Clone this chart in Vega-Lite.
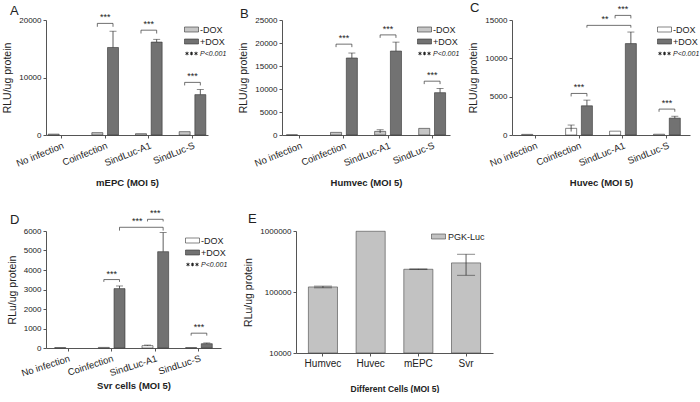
{
  "$schema": "https://vega.github.io/schema/vega-lite/v6.json",
  "background": "white",
  "padding": {"left": 2, "top": 2, "right": 0, "bottom": 0},
  "config": {
    "font": "Liberation Sans",
    "view": {"stroke": null},
    "title": {"font": "Liberation Sans", "fontSize": 13, "fontWeight": "normal", "anchor": "start", "frame": "group", "color": "#222", "offset": -5},
    "axis": {"grid": false, "labelFont": "Liberation Sans", "titleFont": "Liberation Sans", "domainColor": "#555", "tickColor": "#555", "labelColor": "#222", "titleColor": "#222", "tickSize": 3, "labelPadding": 2, "labelFontSize": 8},
    "axisY": {"titleFontSize": 10.5, "titleFontWeight": "normal", "titlePadding": 6},
    "axisX": {"labelAngle": -22, "labelFontSize": 9.5, "titleFontWeight": "bold", "titleFontSize": 9.5, "titlePadding": 10}
  },
  "datasets": {
    "bars": [
      {"panel": "A", "cat": "No infection", "grp": "-DOX", "value": 150},
      {"panel": "A", "cat": "Coinfection", "grp": "-DOX", "value": 410},
      {"panel": "A", "cat": "Coinfection", "grp": "+DOX", "value": 15220, "lo": 15220, "hi": 18050},
      {"panel": "A", "cat": "SindLuc-A1", "grp": "-DOX", "value": 230},
      {"panel": "A", "cat": "SindLuc-A1", "grp": "+DOX", "value": 16160, "lo": 16160, "hi": 16640},
      {"panel": "A", "cat": "SindLuc-S", "grp": "-DOX", "value": 580},
      {"panel": "A", "cat": "SindLuc-S", "grp": "+DOX", "value": 7020, "lo": 7020, "hi": 7910},
      {"panel": "B", "cat": "No infection", "grp": "-DOX", "value": 40},
      {"panel": "B", "cat": "Coinfection", "grp": "-DOX", "value": 570},
      {"panel": "B", "cat": "Coinfection", "grp": "+DOX", "value": 16740, "lo": 16740, "hi": 17820},
      {"panel": "B", "cat": "SindLuc-A1", "grp": "-DOX", "value": 790, "lo": 450, "hi": 1140},
      {"panel": "B", "cat": "SindLuc-A1", "grp": "+DOX", "value": 18250, "lo": 18250, "hi": 20190},
      {"panel": "B", "cat": "SindLuc-S", "grp": "-DOX", "value": 1440},
      {"panel": "B", "cat": "SindLuc-S", "grp": "+DOX", "value": 9200, "lo": 9200, "hi": 10130},
      {"panel": "C", "cat": "No infection", "grp": "-DOX", "value": 80},
      {"panel": "C", "cat": "Coinfection", "grp": "-DOX", "value": 870, "lo": 450, "hi": 1300},
      {"panel": "C", "cat": "Coinfection", "grp": "+DOX", "value": 3810, "lo": 3810, "hi": 4550},
      {"panel": "C", "cat": "SindLuc-A1", "grp": "-DOX", "value": 500},
      {"panel": "C", "cat": "SindLuc-A1", "grp": "+DOX", "value": 11920, "lo": 11920, "hi": 13430},
      {"panel": "C", "cat": "SindLuc-S", "grp": "-DOX", "value": 100},
      {"panel": "C", "cat": "SindLuc-S", "grp": "+DOX", "value": 2200, "lo": 2200, "hi": 2450},
      {"panel": "D", "cat": "No infection", "grp": "-DOX", "value": 25},
      {"panel": "D", "cat": "Coinfection", "grp": "-DOX", "value": 30},
      {"panel": "D", "cat": "Coinfection", "grp": "+DOX", "value": 3045, "lo": 3045, "hi": 3180},
      {"panel": "D", "cat": "SindLuc-A1", "grp": "-DOX", "value": 120, "lo": 120, "hi": 150},
      {"panel": "D", "cat": "SindLuc-A1", "grp": "+DOX", "value": 4940, "lo": 4940, "hi": 5920},
      {"panel": "D", "cat": "SindLuc-S", "grp": "-DOX", "value": 25},
      {"panel": "D", "cat": "SindLuc-S", "grp": "+DOX", "value": 220, "lo": 220, "hi": 260},
      {"panel": "E", "cat": "Humvec", "grp": "PGK-Luc", "value": 121000, "lo": 117000, "hi": 125000},
      {"panel": "E", "cat": "Huvec", "grp": "PGK-Luc", "value": 990000},
      {"panel": "E", "cat": "mEPC", "grp": "PGK-Luc", "value": 236000, "lo": 233000, "hi": 239000},
      {"panel": "E", "cat": "Svr", "grp": "PGK-Luc", "value": 300000, "lo": 188000, "hi": 416000}
    ],
    "brackets": [
      {"panel": "A", "id": "a1", "cat": "Coinfection", "grp": "-DOX", "y": 18820, "ord": 0},
      {"panel": "A", "id": "a1", "cat": "Coinfection", "grp": "-DOX", "y": 19410, "ord": 1},
      {"panel": "A", "id": "a1", "cat": "Coinfection", "grp": "+DOX", "y": 19410, "ord": 2},
      {"panel": "A", "id": "a1", "cat": "Coinfection", "grp": "+DOX", "y": 18820, "ord": 3},
      {"panel": "A", "id": "a2", "cat": "SindLuc-A1", "grp": "-DOX", "y": 17650, "ord": 0},
      {"panel": "A", "id": "a2", "cat": "SindLuc-A1", "grp": "-DOX", "y": 18230, "ord": 1},
      {"panel": "A", "id": "a2", "cat": "SindLuc-A1", "grp": "+DOX", "y": 18230, "ord": 2},
      {"panel": "A", "id": "a2", "cat": "SindLuc-A1", "grp": "+DOX", "y": 17650, "ord": 3},
      {"panel": "A", "id": "a3", "cat": "SindLuc-S", "grp": "-DOX", "y": 8620, "ord": 0},
      {"panel": "A", "id": "a3", "cat": "SindLuc-S", "grp": "-DOX", "y": 9150, "ord": 1},
      {"panel": "A", "id": "a3", "cat": "SindLuc-S", "grp": "+DOX", "y": 9150, "ord": 2},
      {"panel": "A", "id": "a3", "cat": "SindLuc-S", "grp": "+DOX", "y": 8620, "ord": 3},
      {"panel": "B", "id": "b1", "cat": "Coinfection", "grp": "-DOX", "y": 19100, "ord": 0},
      {"panel": "B", "id": "b1", "cat": "Coinfection", "grp": "-DOX", "y": 19750, "ord": 1},
      {"panel": "B", "id": "b1", "cat": "Coinfection", "grp": "+DOX", "y": 19750, "ord": 2},
      {"panel": "B", "id": "b1", "cat": "Coinfection", "grp": "+DOX", "y": 19100, "ord": 3},
      {"panel": "B", "id": "b2", "cat": "SindLuc-A1", "grp": "-DOX", "y": 21120, "ord": 0},
      {"panel": "B", "id": "b2", "cat": "SindLuc-A1", "grp": "-DOX", "y": 21760, "ord": 1},
      {"panel": "B", "id": "b2", "cat": "SindLuc-A1", "grp": "+DOX", "y": 21760, "ord": 2},
      {"panel": "B", "id": "b2", "cat": "SindLuc-A1", "grp": "+DOX", "y": 21120, "ord": 3},
      {"panel": "B", "id": "b3", "cat": "SindLuc-S", "grp": "-DOX", "y": 11060, "ord": 0},
      {"panel": "B", "id": "b3", "cat": "SindLuc-S", "grp": "-DOX", "y": 11700, "ord": 1},
      {"panel": "B", "id": "b3", "cat": "SindLuc-S", "grp": "+DOX", "y": 11700, "ord": 2},
      {"panel": "B", "id": "b3", "cat": "SindLuc-S", "grp": "+DOX", "y": 11060, "ord": 3},
      {"panel": "C", "id": "c1", "cat": "Coinfection", "grp": "-DOX", "y": 5030, "ord": 0},
      {"panel": "C", "id": "c1", "cat": "Coinfection", "grp": "-DOX", "y": 5420, "ord": 1},
      {"panel": "C", "id": "c1", "cat": "Coinfection", "grp": "+DOX", "y": 5420, "ord": 2},
      {"panel": "C", "id": "c1", "cat": "Coinfection", "grp": "+DOX", "y": 5030, "ord": 3},
      {"panel": "C", "id": "c2", "cat": "SindLuc-A1", "grp": "-DOX", "y": 15210, "ord": 0},
      {"panel": "C", "id": "c2", "cat": "SindLuc-A1", "grp": "-DOX", "y": 15600, "ord": 1},
      {"panel": "C", "id": "c2", "cat": "SindLuc-A1", "grp": "+DOX", "y": 15600, "ord": 2},
      {"panel": "C", "id": "c2", "cat": "SindLuc-A1", "grp": "+DOX", "y": 15210, "ord": 3},
      {"panel": "C", "id": "c3", "cat": "SindLuc-S", "grp": "-DOX", "y": 3030, "ord": 0},
      {"panel": "C", "id": "c3", "cat": "SindLuc-S", "grp": "-DOX", "y": 3380, "ord": 1},
      {"panel": "C", "id": "c3", "cat": "SindLuc-S", "grp": "+DOX", "y": 3380, "ord": 2},
      {"panel": "C", "id": "c3", "cat": "SindLuc-S", "grp": "+DOX", "y": 3030, "ord": 3},
      {"panel": "C", "id": "c4", "cat": "Coinfection", "grp": "+DOX", "y": 14000, "ord": 0},
      {"panel": "C", "id": "c4", "cat": "Coinfection", "grp": "+DOX", "y": 14300, "ord": 1},
      {"panel": "C", "id": "c4", "cat": "SindLuc-A1", "grp": "+DOX", "y": 14300, "ord": 2},
      {"panel": "C", "id": "c4", "cat": "SindLuc-A1", "grp": "+DOX", "y": 14000, "ord": 3},
      {"panel": "D", "id": "d1", "cat": "Coinfection", "grp": "-DOX", "y": 3390, "ord": 0},
      {"panel": "D", "id": "d1", "cat": "Coinfection", "grp": "-DOX", "y": 3510, "ord": 1},
      {"panel": "D", "id": "d1", "cat": "Coinfection", "grp": "+DOX", "y": 3510, "ord": 2},
      {"panel": "D", "id": "d1", "cat": "Coinfection", "grp": "+DOX", "y": 3390, "ord": 3},
      {"panel": "D", "id": "d2", "cat": "SindLuc-A1", "grp": "-DOX", "y": 6490, "ord": 0},
      {"panel": "D", "id": "d2", "cat": "SindLuc-A1", "grp": "-DOX", "y": 6600, "ord": 1},
      {"panel": "D", "id": "d2", "cat": "SindLuc-A1", "grp": "+DOX", "y": 6600, "ord": 2},
      {"panel": "D", "id": "d2", "cat": "SindLuc-A1", "grp": "+DOX", "y": 6490, "ord": 3},
      {"panel": "D", "id": "d3", "cat": "SindLuc-S", "grp": "-DOX", "y": 635, "ord": 0},
      {"panel": "D", "id": "d3", "cat": "SindLuc-S", "grp": "-DOX", "y": 760, "ord": 1},
      {"panel": "D", "id": "d3", "cat": "SindLuc-S", "grp": "+DOX", "y": 760, "ord": 2},
      {"panel": "D", "id": "d3", "cat": "SindLuc-S", "grp": "+DOX", "y": 635, "ord": 3},
      {"panel": "D", "id": "d4", "cat": "Coinfection", "grp": "+DOX", "y": 6020, "ord": 0},
      {"panel": "D", "id": "d4", "cat": "Coinfection", "grp": "+DOX", "y": 6190, "ord": 1},
      {"panel": "D", "id": "d4", "cat": "SindLuc-A1", "grp": "+DOX", "y": 6190, "ord": 2},
      {"panel": "D", "id": "d4", "cat": "SindLuc-A1", "grp": "+DOX", "y": 6020, "ord": 3}
    ],
    "blabels": [
      {"panel": "A", "cat": "Coinfection", "y": 19410, "label": "***", "cross": false},
      {"panel": "A", "cat": "SindLuc-A1", "y": 18230, "label": "***", "cross": false},
      {"panel": "A", "cat": "SindLuc-S", "y": 9150, "label": "***", "cross": false},
      {"panel": "B", "cat": "Coinfection", "y": 19750, "label": "***", "cross": false},
      {"panel": "B", "cat": "SindLuc-A1", "y": 21760, "label": "***", "cross": false},
      {"panel": "B", "cat": "SindLuc-S", "y": 11700, "label": "***", "cross": false},
      {"panel": "C", "cat": "Coinfection", "y": 5420, "label": "***", "cross": false},
      {"panel": "C", "cat": "SindLuc-A1", "y": 15600, "label": "***", "cross": false},
      {"panel": "C", "cat": "SindLuc-S", "y": 3380, "label": "***", "cross": false},
      {"panel": "C", "cat": "SindLuc-A1", "y": 14300, "label": "**", "cross": true},
      {"panel": "D", "cat": "Coinfection", "y": 3510, "label": "***", "cross": false},
      {"panel": "D", "cat": "SindLuc-A1", "y": 6600, "label": "***", "cross": false},
      {"panel": "D", "cat": "SindLuc-S", "y": 760, "label": "***", "cross": false},
      {"panel": "D", "cat": "SindLuc-A1", "y": 6190, "label": "***", "cross": true}
    ]
  },
  "bounds": "flush",
  "spacing": 211,
  "resolve": {"scale": {"fill": "independent", "xOffset": "independent"}, "legend": {"fill": "independent"}},
  "vconcat": [
    {
      "bounds": "flush",
      "spacing": 74,
      "resolve": {"scale": {"fill": "independent", "xOffset": "independent"}, "legend": {"fill": "independent"}},
      "hconcat": [
        {
          "width": 162, "height": 115,
          "title": {"text": "A", "dx": -36},
          "layer": [
            {"data": {"name": "bars"}, "transform": [{"filter": "datum.panel == 'A'"}],
             "mark": {"type": "bar", "stroke": "#333", "strokeWidth": 0.6},
             "encoding": {
               "x": {"field": "cat", "type": "nominal", "sort": ["No infection", "Coinfection", "SindLuc-A1", "SindLuc-S"], "scale": {"paddingInner": 0.39, "paddingOuter": 0.05}, "title": "mEPC (MOI 5)"},
               "xOffset": {"field": "grp", "type": "nominal", "sort": ["-DOX", "+DOX"], "scale": {"domain": ["-DOX", "+DOX"], "paddingInner": 0.3}},
               "y": {"field": "value", "type": "quantitative", "scale": {"domain": [0, 20000], "nice": false}, "axis": {"values": [0, 10000, 20000], "format": "d"}, "title": "RLU/ug protein"},
               "fill": {"field": "grp", "type": "nominal", "scale": {"domain": ["-DOX", "+DOX", "P<0.001"], "range": ["#c6c6c6", "#727272", "transparent"]},
                 "legend": {"orient": "right", "offset": -21, "title": " ", "titleFontSize": 4, "titlePadding": 1, "symbolType": "M-1.4,-0.5H1.4V0.5H-1.4Z", "symbolSize": 100, "symbolStrokeColor": "#333", "symbolStrokeWidth": 0.6, "labelFont": "Liberation Sans", "labelFontSize": 9, "labelColor": "#222", "labelOffset": 4, "rowPadding": 2,
                   "encode": {"symbols": {"update": {"shape": {"signal": "datum.value == 'P<0.001' ? 'M-0.9,-0.35V0.35M-1.203,-0.175L-0.597,0.175M-1.203,0.175L-0.597,-0.175M0,-0.35V0.35M-0.303,-0.175L0.303,0.175M-0.303,0.175L0.303,-0.175M0.9,-0.35V0.35M0.597,-0.175L1.203,0.175M0.597,0.175L1.203,-0.175' : 'M-1.4,-0.5H1.4V0.5H-1.4Z'"}, "stroke": {"signal": "datum.value == 'P<0.001' ? '#222' : '#333'"}, "strokeWidth": {"signal": "datum.value == 'P<0.001' ? 1 : 0.6"}}},
                              "labels": {"update": {"fontStyle": {"signal": "datum.value == 'P<0.001' ? 'italic' : 'normal'"}, "fontSize": {"signal": "datum.value == 'P<0.001' ? 7 : 9"}}}}}}
             }},
            {"data": {"name": "bars"}, "transform": [{"filter": "datum.panel == 'A' && isValid(datum.hi)"}],
             "mark": {"type": "rule", "stroke": "#333", "strokeWidth": 0.8},
             "encoding": {
               "x": {"field": "cat", "type": "nominal", "sort": ["No infection", "Coinfection", "SindLuc-A1", "SindLuc-S"], "scale": {"paddingInner": 0.39, "paddingOuter": 0.05}, "title": "mEPC (MOI 5)"},
               "xOffset": {"field": "grp", "type": "nominal", "sort": ["-DOX", "+DOX"], "scale": {"domain": ["-DOX", "+DOX"], "paddingInner": 0.3}},
               "y": {"field": "lo", "type": "quantitative", "scale": {"domain": [0, 20000], "nice": false}, "axis": {"values": [0, 10000, 20000], "format": "d"}, "title": "RLU/ug protein"},
               "y2": {"field": "hi"}
             }},
            {"data": {"name": "bars"}, "transform": [{"filter": "datum.panel == 'A' && isValid(datum.hi)"}],
             "mark": {"type": "tick", "color": "#333", "size": 7, "thickness": 0.8},
             "encoding": {
               "x": {"field": "cat", "type": "nominal", "sort": ["No infection", "Coinfection", "SindLuc-A1", "SindLuc-S"], "scale": {"paddingInner": 0.39, "paddingOuter": 0.05}, "title": "mEPC (MOI 5)"},
               "xOffset": {"field": "grp", "type": "nominal", "sort": ["-DOX", "+DOX"], "scale": {"domain": ["-DOX", "+DOX"], "paddingInner": 0.3}},
               "y": {"field": "hi", "type": "quantitative", "scale": {"domain": [0, 20000], "nice": false}, "axis": {"values": [0, 10000, 20000], "format": "d"}, "title": "RLU/ug protein"}
             }},
            {"data": {"name": "brackets"}, "transform": [{"filter": "datum.panel == 'A'"}],
             "mark": {"type": "line", "stroke": "#333", "strokeWidth": 0.7},
             "encoding": {
               "x": {"field": "cat", "type": "nominal", "sort": ["No infection", "Coinfection", "SindLuc-A1", "SindLuc-S"], "scale": {"paddingInner": 0.39, "paddingOuter": 0.05}, "title": "mEPC (MOI 5)"},
               "xOffset": {"field": "grp", "type": "nominal", "sort": ["-DOX", "+DOX"], "scale": {"domain": ["-DOX", "+DOX"], "paddingInner": 0.3}},
               "y": {"field": "y", "type": "quantitative", "scale": {"domain": [0, 20000], "nice": false}, "axis": {"values": [0, 10000, 20000], "format": "d"}, "title": "RLU/ug protein"},
               "detail": {"field": "id"},
               "order": {"field": "ord"}
             }},
            {"data": {"name": "blabels"}, "transform": [{"filter": "datum.panel == 'A'"}],
             "mark": {"type": "text", "baseline": "bottom", "dy": -1, "fontSize": 9, "color": "#222"},
             "encoding": {
               "x": {"field": "cat", "type": "nominal", "sort": ["No infection", "Coinfection", "SindLuc-A1", "SindLuc-S"], "scale": {"paddingInner": 0.39, "paddingOuter": 0.05}, "title": "mEPC (MOI 5)"},
               "y": {"field": "y", "type": "quantitative", "scale": {"domain": [0, 20000], "nice": false}, "axis": {"values": [0, 10000, 20000], "format": "d"}, "title": "RLU/ug protein"},
               "text": {"field": "label"}
             }}
          ]
        },
        {
          "bounds": "flush",
          "spacing": 62,
          "resolve": {"scale": {"fill": "independent", "xOffset": "independent"}, "legend": {"fill": "independent"}},
          "hconcat": [
            {
              "width": 168, "height": 115,
              "title": {"text": "B", "dx": -42},
              "layer": [
                {"data": {"name": "bars"}, "transform": [{"filter": "datum.panel == 'B'"}],
                 "mark": {"type": "bar", "stroke": "#333", "strokeWidth": 0.6},
                 "encoding": {
                   "x": {"field": "cat", "type": "nominal", "sort": ["No infection", "Coinfection", "SindLuc-A1", "SindLuc-S"], "scale": {"paddingInner": 0.39, "paddingOuter": 0.1}, "title": "Humvec (MOI 5)"},
                   "xOffset": {"field": "grp", "type": "nominal", "sort": ["-DOX", "+DOX"], "scale": {"domain": ["-DOX", "+DOX"], "paddingInner": 0.3}},
                   "y": {"field": "value", "type": "quantitative", "scale": {"domain": [0, 25000], "nice": false}, "axis": {"values": [0, 5000, 10000, 15000, 20000, 25000], "format": "d"}, "title": "RLU/ug protein"},
                   "fill": {"field": "grp", "type": "nominal", "scale": {"domain": ["-DOX", "+DOX", "P<0.001"], "range": ["#c6c6c6", "#727272", "transparent"]},
                     "legend": {"orient": "right", "offset": -30, "title": " ", "titleFontSize": 4, "titlePadding": 1, "symbolType": "M-1.4,-0.5H1.4V0.5H-1.4Z", "symbolSize": 100, "symbolStrokeColor": "#333", "symbolStrokeWidth": 0.6, "labelFont": "Liberation Sans", "labelFontSize": 9, "labelColor": "#222", "labelOffset": 4, "rowPadding": 2,
                       "encode": {"symbols": {"update": {"shape": {"signal": "datum.value == 'P<0.001' ? 'M-0.9,-0.35V0.35M-1.203,-0.175L-0.597,0.175M-1.203,0.175L-0.597,-0.175M0,-0.35V0.35M-0.303,-0.175L0.303,0.175M-0.303,0.175L0.303,-0.175M0.9,-0.35V0.35M0.597,-0.175L1.203,0.175M0.597,0.175L1.203,-0.175' : 'M-1.4,-0.5H1.4V0.5H-1.4Z'"}, "stroke": {"signal": "datum.value == 'P<0.001' ? '#222' : '#333'"}, "strokeWidth": {"signal": "datum.value == 'P<0.001' ? 1 : 0.6"}}},
                                  "labels": {"update": {"fontStyle": {"signal": "datum.value == 'P<0.001' ? 'italic' : 'normal'"}, "fontSize": {"signal": "datum.value == 'P<0.001' ? 7 : 9"}}}}}}
                 }},
                {"data": {"name": "bars"}, "transform": [{"filter": "datum.panel == 'B' && isValid(datum.hi)"}],
                 "mark": {"type": "rule", "stroke": "#333", "strokeWidth": 0.8},
                 "encoding": {
                   "x": {"field": "cat", "type": "nominal", "sort": ["No infection", "Coinfection", "SindLuc-A1", "SindLuc-S"], "scale": {"paddingInner": 0.39, "paddingOuter": 0.1}, "title": "Humvec (MOI 5)"},
                   "xOffset": {"field": "grp", "type": "nominal", "sort": ["-DOX", "+DOX"], "scale": {"domain": ["-DOX", "+DOX"], "paddingInner": 0.3}},
                   "y": {"field": "lo", "type": "quantitative", "scale": {"domain": [0, 25000], "nice": false}, "axis": {"values": [0, 5000, 10000, 15000, 20000, 25000], "format": "d"}, "title": "RLU/ug protein"},
                   "y2": {"field": "hi"}
                 }},
                {"data": {"name": "bars"}, "transform": [{"filter": "datum.panel == 'B' && isValid(datum.hi)"}],
                 "mark": {"type": "tick", "color": "#333", "size": 7, "thickness": 0.8},
                 "encoding": {
                   "x": {"field": "cat", "type": "nominal", "sort": ["No infection", "Coinfection", "SindLuc-A1", "SindLuc-S"], "scale": {"paddingInner": 0.39, "paddingOuter": 0.1}, "title": "Humvec (MOI 5)"},
                   "xOffset": {"field": "grp", "type": "nominal", "sort": ["-DOX", "+DOX"], "scale": {"domain": ["-DOX", "+DOX"], "paddingInner": 0.3}},
                   "y": {"field": "hi", "type": "quantitative", "scale": {"domain": [0, 25000], "nice": false}, "axis": {"values": [0, 5000, 10000, 15000, 20000, 25000], "format": "d"}, "title": "RLU/ug protein"}
                 }},
                {"data": {"name": "brackets"}, "transform": [{"filter": "datum.panel == 'B'"}],
                 "mark": {"type": "line", "stroke": "#333", "strokeWidth": 0.7},
                 "encoding": {
                   "x": {"field": "cat", "type": "nominal", "sort": ["No infection", "Coinfection", "SindLuc-A1", "SindLuc-S"], "scale": {"paddingInner": 0.39, "paddingOuter": 0.1}, "title": "Humvec (MOI 5)"},
                   "xOffset": {"field": "grp", "type": "nominal", "sort": ["-DOX", "+DOX"], "scale": {"domain": ["-DOX", "+DOX"], "paddingInner": 0.3}},
                   "y": {"field": "y", "type": "quantitative", "scale": {"domain": [0, 25000], "nice": false}, "axis": {"values": [0, 5000, 10000, 15000, 20000, 25000], "format": "d"}, "title": "RLU/ug protein"},
                   "detail": {"field": "id"},
                   "order": {"field": "ord"}
                 }},
                {"data": {"name": "blabels"}, "transform": [{"filter": "datum.panel == 'B'"}],
                 "mark": {"type": "text", "baseline": "bottom", "dy": -1, "fontSize": 9, "color": "#222"},
                 "encoding": {
                   "x": {"field": "cat", "type": "nominal", "sort": ["No infection", "Coinfection", "SindLuc-A1", "SindLuc-S"], "scale": {"paddingInner": 0.39, "paddingOuter": 0.1}, "title": "Humvec (MOI 5)"},
                   "y": {"field": "y", "type": "quantitative", "scale": {"domain": [0, 25000], "nice": false}, "axis": {"values": [0, 5000, 10000, 15000, 20000, 25000], "format": "d"}, "title": "RLU/ug protein"},
                   "text": {"field": "label"}
                 }}
              ]
            },
            {
              "width": 178, "height": 115,
              "title": {"text": "C", "dx": -42, "offset": -10},
              "layer": [
                {"data": {"name": "bars"}, "transform": [{"filter": "datum.panel == 'C'"}],
                 "mark": {"type": "bar", "stroke": "#333", "strokeWidth": 0.6},
                 "encoding": {
                   "x": {"field": "cat", "type": "nominal", "sort": ["No infection", "Coinfection", "SindLuc-A1", "SindLuc-S"], "scale": {"paddingInner": 0.39, "paddingOuter": 0.22}, "title": "Huvec (MOI 5)"},
                   "xOffset": {"field": "grp", "type": "nominal", "sort": ["-DOX", "+DOX"], "scale": {"domain": ["-DOX", "+DOX"], "paddingInner": 0.3}},
                   "y": {"field": "value", "type": "quantitative", "scale": {"domain": [0, 15000], "nice": false}, "axis": {"values": [0, 5000, 10000, 15000], "format": "d"}, "title": "RLU/ug protein"},
                   "fill": {"field": "grp", "type": "nominal", "scale": {"domain": ["-DOX", "+DOX", "P<0.001"], "range": ["#ffffff", "#727272", "transparent"]},
                     "legend": {"orient": "right", "offset": -30, "title": " ", "titleFontSize": 4, "titlePadding": 1, "symbolType": "M-1.4,-0.5H1.4V0.5H-1.4Z", "symbolSize": 100, "symbolStrokeColor": "#333", "symbolStrokeWidth": 0.6, "labelFont": "Liberation Sans", "labelFontSize": 9, "labelColor": "#222", "labelOffset": 4, "rowPadding": 2,
                       "encode": {"symbols": {"update": {"shape": {"signal": "datum.value == 'P<0.001' ? 'M-0.9,-0.35V0.35M-1.203,-0.175L-0.597,0.175M-1.203,0.175L-0.597,-0.175M0,-0.35V0.35M-0.303,-0.175L0.303,0.175M-0.303,0.175L0.303,-0.175M0.9,-0.35V0.35M0.597,-0.175L1.203,0.175M0.597,0.175L1.203,-0.175' : 'M-1.4,-0.5H1.4V0.5H-1.4Z'"}, "stroke": {"signal": "datum.value == 'P<0.001' ? '#222' : '#333'"}, "strokeWidth": {"signal": "datum.value == 'P<0.001' ? 1 : 0.6"}}},
                                  "labels": {"update": {"fontStyle": {"signal": "datum.value == 'P<0.001' ? 'italic' : 'normal'"}, "fontSize": {"signal": "datum.value == 'P<0.001' ? 7 : 9"}}}}}}
                 }},
                {"data": {"name": "bars"}, "transform": [{"filter": "datum.panel == 'C' && isValid(datum.hi)"}],
                 "mark": {"type": "rule", "stroke": "#333", "strokeWidth": 0.8},
                 "encoding": {
                   "x": {"field": "cat", "type": "nominal", "sort": ["No infection", "Coinfection", "SindLuc-A1", "SindLuc-S"], "scale": {"paddingInner": 0.39, "paddingOuter": 0.22}, "title": "Huvec (MOI 5)"},
                   "xOffset": {"field": "grp", "type": "nominal", "sort": ["-DOX", "+DOX"], "scale": {"domain": ["-DOX", "+DOX"], "paddingInner": 0.3}},
                   "y": {"field": "lo", "type": "quantitative", "scale": {"domain": [0, 15000], "nice": false}, "axis": {"values": [0, 5000, 10000, 15000], "format": "d"}, "title": "RLU/ug protein"},
                   "y2": {"field": "hi"}
                 }},
                {"data": {"name": "bars"}, "transform": [{"filter": "datum.panel == 'C' && isValid(datum.hi)"}],
                 "mark": {"type": "tick", "color": "#333", "size": 7, "thickness": 0.8},
                 "encoding": {
                   "x": {"field": "cat", "type": "nominal", "sort": ["No infection", "Coinfection", "SindLuc-A1", "SindLuc-S"], "scale": {"paddingInner": 0.39, "paddingOuter": 0.22}, "title": "Huvec (MOI 5)"},
                   "xOffset": {"field": "grp", "type": "nominal", "sort": ["-DOX", "+DOX"], "scale": {"domain": ["-DOX", "+DOX"], "paddingInner": 0.3}},
                   "y": {"field": "hi", "type": "quantitative", "scale": {"domain": [0, 15000], "nice": false}, "axis": {"values": [0, 5000, 10000, 15000], "format": "d"}, "title": "RLU/ug protein"}
                 }},
                {"data": {"name": "brackets"}, "transform": [{"filter": "datum.panel == 'C'"}],
                 "mark": {"type": "line", "stroke": "#333", "strokeWidth": 0.7},
                 "encoding": {
                   "x": {"field": "cat", "type": "nominal", "sort": ["No infection", "Coinfection", "SindLuc-A1", "SindLuc-S"], "scale": {"paddingInner": 0.39, "paddingOuter": 0.22}, "title": "Huvec (MOI 5)"},
                   "xOffset": {"field": "grp", "type": "nominal", "sort": ["-DOX", "+DOX"], "scale": {"domain": ["-DOX", "+DOX"], "paddingInner": 0.3}},
                   "y": {"field": "y", "type": "quantitative", "scale": {"domain": [0, 15000], "nice": false}, "axis": {"values": [0, 5000, 10000, 15000], "format": "d"}, "title": "RLU/ug protein"},
                   "detail": {"field": "id"},
                   "order": {"field": "ord"}
                 }},
                {"data": {"name": "blabels"}, "transform": [{"filter": "datum.panel == 'C' && !datum.cross"}],
                 "mark": {"type": "text", "baseline": "bottom", "dy": -1, "fontSize": 9, "color": "#222"},
                 "encoding": {
                   "x": {"field": "cat", "type": "nominal", "sort": ["No infection", "Coinfection", "SindLuc-A1", "SindLuc-S"], "scale": {"paddingInner": 0.39, "paddingOuter": 0.22}, "title": "Huvec (MOI 5)"},
                   "y": {"field": "y", "type": "quantitative", "scale": {"domain": [0, 15000], "nice": false}, "axis": {"values": [0, 5000, 10000, 15000], "format": "d"}, "title": "RLU/ug protein"},
                   "text": {"field": "label"}
                 }},
                {"data": {"name": "blabels"}, "transform": [{"filter": "datum.panel == 'C' && datum.cross"}],
                 "mark": {"type": "text", "baseline": "bottom", "dy": -1, "dx": -18, "fontSize": 9, "color": "#222"},
                 "encoding": {
                   "x": {"field": "cat", "type": "nominal", "sort": ["No infection", "Coinfection", "SindLuc-A1", "SindLuc-S"], "scale": {"paddingInner": 0.39, "paddingOuter": 0.22}, "title": "Huvec (MOI 5)"},
                   "y": {"field": "y", "type": "quantitative", "scale": {"domain": [0, 15000], "nice": false}, "axis": {"values": [0, 5000, 10000, 15000], "format": "d"}, "title": "RLU/ug protein"},
                   "text": {"field": "label"}
                 }}
              ]
            }
          ]
        }
      ]
    },
    {
      "bounds": "flush",
      "spacing": 75,
      "resolve": {"scale": {"fill": "independent", "xOffset": "independent"}, "legend": {"fill": "independent"}},
      "hconcat": [
        {
          "width": 175, "height": 117,
          "title": {"text": "D", "dx": -36, "offset": -18},
          "layer": [
            {"data": {"name": "bars"}, "transform": [{"filter": "datum.panel == 'D'"}],
             "mark": {"type": "bar", "stroke": "#333", "strokeWidth": 0.6},
             "encoding": {
               "x": {"field": "cat", "type": "nominal", "sort": ["No infection", "Coinfection", "SindLuc-A1", "SindLuc-S"], "scale": {"paddingInner": 0.39, "paddingOuter": 0.2}, "title": "Svr cells (MOI 5)", "axis": {"labelAngle": -18, "titlePadding": 3}},
               "xOffset": {"field": "grp", "type": "nominal", "sort": ["-DOX", "+DOX"], "scale": {"domain": ["-DOX", "+DOX"], "paddingInner": 0.3}},
               "y": {"field": "value", "type": "quantitative", "scale": {"domain": [0, 6000], "nice": false}, "axis": {"values": [0, 1000, 2000, 3000, 4000, 5000, 6000], "format": "d"}, "title": "RLu/ug protein"},
               "fill": {"field": "grp", "type": "nominal", "scale": {"domain": ["-DOX", "+DOX", "P<0.001"], "range": ["#ffffff", "#727272", "transparent"]},
                 "legend": {"orient": "right", "offset": -33, "title": " ", "titleFontSize": 4, "titlePadding": 1, "symbolType": "M-1.4,-0.5H1.4V0.5H-1.4Z", "symbolSize": 100, "symbolStrokeColor": "#333", "symbolStrokeWidth": 0.6, "labelFont": "Liberation Sans", "labelFontSize": 9, "labelColor": "#222", "labelOffset": 4, "rowPadding": 2,
                   "encode": {"symbols": {"update": {"shape": {"signal": "datum.value == 'P<0.001' ? 'M-0.9,-0.35V0.35M-1.203,-0.175L-0.597,0.175M-1.203,0.175L-0.597,-0.175M0,-0.35V0.35M-0.303,-0.175L0.303,0.175M-0.303,0.175L0.303,-0.175M0.9,-0.35V0.35M0.597,-0.175L1.203,0.175M0.597,0.175L1.203,-0.175' : 'M-1.4,-0.5H1.4V0.5H-1.4Z'"}, "stroke": {"signal": "datum.value == 'P<0.001' ? '#222' : '#333'"}, "strokeWidth": {"signal": "datum.value == 'P<0.001' ? 1 : 0.6"}}},
                              "labels": {"update": {"fontStyle": {"signal": "datum.value == 'P<0.001' ? 'italic' : 'normal'"}, "fontSize": {"signal": "datum.value == 'P<0.001' ? 7 : 9"}}}}}}
             }},
            {"data": {"name": "bars"}, "transform": [{"filter": "datum.panel == 'D' && isValid(datum.hi)"}],
             "mark": {"type": "rule", "stroke": "#333", "strokeWidth": 0.8},
             "encoding": {
               "x": {"field": "cat", "type": "nominal", "sort": ["No infection", "Coinfection", "SindLuc-A1", "SindLuc-S"], "scale": {"paddingInner": 0.39, "paddingOuter": 0.2}, "title": "Svr cells (MOI 5)"},
               "xOffset": {"field": "grp", "type": "nominal", "sort": ["-DOX", "+DOX"], "scale": {"domain": ["-DOX", "+DOX"], "paddingInner": 0.3}},
               "y": {"field": "lo", "type": "quantitative", "scale": {"domain": [0, 6000], "nice": false}, "axis": {"values": [0, 1000, 2000, 3000, 4000, 5000, 6000], "format": "d"}, "title": "RLu/ug protein"},
               "y2": {"field": "hi"}
             }},
            {"data": {"name": "bars"}, "transform": [{"filter": "datum.panel == 'D' && isValid(datum.hi)"}],
             "mark": {"type": "tick", "color": "#333", "size": 7, "thickness": 0.8},
             "encoding": {
               "x": {"field": "cat", "type": "nominal", "sort": ["No infection", "Coinfection", "SindLuc-A1", "SindLuc-S"], "scale": {"paddingInner": 0.39, "paddingOuter": 0.2}, "title": "Svr cells (MOI 5)"},
               "xOffset": {"field": "grp", "type": "nominal", "sort": ["-DOX", "+DOX"], "scale": {"domain": ["-DOX", "+DOX"], "paddingInner": 0.3}},
               "y": {"field": "hi", "type": "quantitative", "scale": {"domain": [0, 6000], "nice": false}, "axis": {"values": [0, 1000, 2000, 3000, 4000, 5000, 6000], "format": "d"}, "title": "RLu/ug protein"}
             }},
            {"data": {"name": "brackets"}, "transform": [{"filter": "datum.panel == 'D'"}],
             "mark": {"type": "line", "stroke": "#333", "strokeWidth": 0.7},
             "encoding": {
               "x": {"field": "cat", "type": "nominal", "sort": ["No infection", "Coinfection", "SindLuc-A1", "SindLuc-S"], "scale": {"paddingInner": 0.39, "paddingOuter": 0.2}, "title": "Svr cells (MOI 5)"},
               "xOffset": {"field": "grp", "type": "nominal", "sort": ["-DOX", "+DOX"], "scale": {"domain": ["-DOX", "+DOX"], "paddingInner": 0.3}},
               "y": {"field": "y", "type": "quantitative", "scale": {"domain": [0, 6000], "nice": false}, "axis": {"values": [0, 1000, 2000, 3000, 4000, 5000, 6000], "format": "d"}, "title": "RLu/ug protein"},
               "detail": {"field": "id"},
               "order": {"field": "ord"}
             }},
            {"data": {"name": "blabels"}, "transform": [{"filter": "datum.panel == 'D' && !datum.cross"}],
             "mark": {"type": "text", "baseline": "bottom", "dy": -1, "fontSize": 9, "color": "#222"},
             "encoding": {
               "x": {"field": "cat", "type": "nominal", "sort": ["No infection", "Coinfection", "SindLuc-A1", "SindLuc-S"], "scale": {"paddingInner": 0.39, "paddingOuter": 0.2}, "title": "Svr cells (MOI 5)"},
               "y": {"field": "y", "type": "quantitative", "scale": {"domain": [0, 6000], "nice": false}, "axis": {"values": [0, 1000, 2000, 3000, 4000, 5000, 6000], "format": "d"}, "title": "RLu/ug protein"},
               "text": {"field": "label"}
             }},
            {"data": {"name": "blabels"}, "transform": [{"filter": "datum.panel == 'D' && datum.cross"}],
             "mark": {"type": "text", "baseline": "bottom", "dy": -1, "dx": -18, "fontSize": 9, "color": "#222"},
             "encoding": {
               "x": {"field": "cat", "type": "nominal", "sort": ["No infection", "Coinfection", "SindLuc-A1", "SindLuc-S"], "scale": {"paddingInner": 0.39, "paddingOuter": 0.2}, "title": "Svr cells (MOI 5)"},
               "y": {"field": "y", "type": "quantitative", "scale": {"domain": [0, 6000], "nice": false}, "axis": {"values": [0, 1000, 2000, 3000, 4000, 5000, 6000], "format": "d"}, "title": "RLu/ug protein"},
               "text": {"field": "label"}
             }}
          ]
        },
        {
          "width": 197, "height": 122,
          "title": {"text": "E", "dx": -48, "offset": 1},
          "layer": [
            {"data": {"name": "bars"}, "transform": [{"filter": "datum.panel == 'E'"}],
             "mark": {"type": "bar", "stroke": "#444", "strokeWidth": 0.6},
             "encoding": {
               "x": {"field": "cat", "type": "nominal", "sort": ["Humvec", "Huvec", "mEPC", "Svr"], "scale": {"paddingInner": 0.39, "paddingOuter": 0.26}, "title": "Different Cells (MOI 5)", "axis": {"labelAngle": 0, "labelFontSize": 10, "titlePadding": 16, "titleFontSize": 8.5}},
               "y": {"field": "value", "type": "quantitative", "stack": null, "scale": {"type": "log", "domain": [10000, 1000000], "nice": false}, "axis": {"values": [10000, 100000, 1000000], "format": "d"}, "title": "RLu/ug protein"},
               "y2": {"datum": 10000},
               "fill": {"field": "grp", "type": "nominal", "scale": {"domain": ["PGK-Luc"], "range": ["#c2c2c2"]},
                 "legend": {"orient": "right", "offset": -60, "title": null, "symbolType": "M-1.4,-0.5H1.4V0.5H-1.4Z", "symbolSize": 100, "symbolStrokeColor": "#444", "symbolStrokeWidth": 0.6, "labelFont": "Liberation Sans", "labelFontSize": 9, "labelColor": "#222", "labelOffset": 4}}
             }},
            {"data": {"name": "bars"}, "transform": [{"filter": "datum.panel == 'E' && isValid(datum.hi)"}],
             "mark": {"type": "rule", "stroke": "#333", "strokeWidth": 0.8},
             "encoding": {
               "x": {"field": "cat", "type": "nominal", "sort": ["Humvec", "Huvec", "mEPC", "Svr"], "scale": {"paddingInner": 0.39, "paddingOuter": 0.26}, "title": "Different Cells (MOI 5)", "axis": {"labelAngle": 0, "labelFontSize": 10, "titlePadding": 16, "titleFontSize": 8.5}},
               "y": {"field": "lo", "type": "quantitative", "scale": {"type": "log", "domain": [10000, 1000000], "nice": false}, "axis": {"values": [10000, 100000, 1000000], "format": "d"}, "title": "RLu/ug protein"},
               "y2": {"field": "hi"}
             }},
            {"data": {"name": "bars"}, "transform": [{"filter": "datum.panel == 'E' && isValid(datum.hi)"}],
             "mark": {"type": "tick", "color": "#333", "size": 18, "thickness": 0.8},
             "encoding": {
               "x": {"field": "cat", "type": "nominal", "sort": ["Humvec", "Huvec", "mEPC", "Svr"], "scale": {"paddingInner": 0.39, "paddingOuter": 0.26}, "title": "Different Cells (MOI 5)", "axis": {"labelAngle": 0, "labelFontSize": 10, "titlePadding": 16, "titleFontSize": 8.5}},
               "y": {"field": "hi", "type": "quantitative", "scale": {"type": "log", "domain": [10000, 1000000], "nice": false}, "axis": {"values": [10000, 100000, 1000000], "format": "d"}, "title": "RLu/ug protein"}
             }},
            {"data": {"name": "bars"}, "transform": [{"filter": "datum.panel == 'E' && isValid(datum.lo)"}],
             "mark": {"type": "tick", "color": "#333", "size": 18, "thickness": 0.8},
             "encoding": {
               "x": {"field": "cat", "type": "nominal", "sort": ["Humvec", "Huvec", "mEPC", "Svr"], "scale": {"paddingInner": 0.39, "paddingOuter": 0.26}, "title": "Different Cells (MOI 5)", "axis": {"labelAngle": 0, "labelFontSize": 10, "titlePadding": 16, "titleFontSize": 8.5}},
               "y": {"field": "lo", "type": "quantitative", "scale": {"type": "log", "domain": [10000, 1000000], "nice": false}, "axis": {"values": [10000, 100000, 1000000], "format": "d"}, "title": "RLu/ug protein"}
             }}
          ]
        }
      ]
    }
  ]
}
